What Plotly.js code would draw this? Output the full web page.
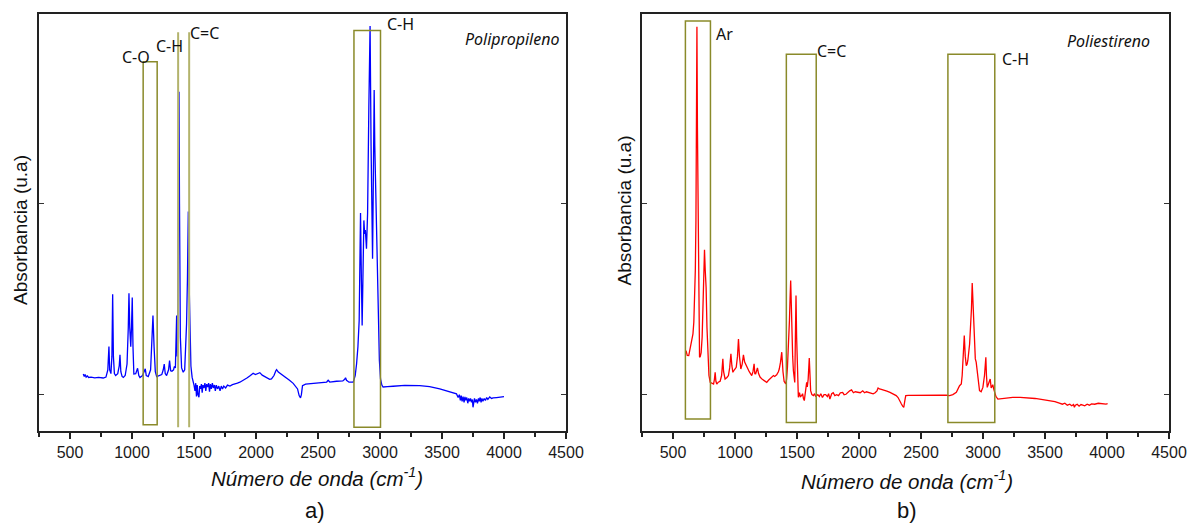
<!DOCTYPE html>
<html>
<head>
<meta charset="utf-8">
<script src="https://cdn.plot.ly/plotly-3.0.1.min.js"></script>
<style>html,body{margin:0;padding:0;background:#fff;}#chart{width:1188px;height:525px;}</style>
</head>
<body>
<div id="chart"></div>
<script>
// Polipropileno spectrum (wavenumber cm^-1, absorbance u.a.)
const ppWavenumber = [607,615,622,630,640,650,670,700,730,768,790,805,814,820,830,838,844,850,858,868,885,897,903,910,920,930,945,960,970,975.5,982,990,996,1002,1008,1015,1030,1045,1055,1064,1085,1100,1107,1115,1131,1150,1160,1169,1178,1188,1199,1220,1240,1252,1260,1268,1279,1295,1303,1312,1322,1335,1341,1350,1356,1360,1364,1370,1375,1379,1383,1390,1400,1413,1425,1435,1440,1447,1454,1460,1466,1475,1485,1493,1500,1508,1514,1520,1526,1532,1540,1546,1552,1560,1566,1572,1580,1588,1595,1602,1610,1618,1625,1632,1640,1648,1656,1665,1672,1680,1690,1700,1710,1720,1730,1740,1755,1770,1790,1810,1830,1850,1870,1900,1930,1955,1977,1995,2010,2031,2050,2080,2110,2125,2145,2160,2166,2180,2210,2240,2270,2300,2320,2335,2348,2359,2366,2375,2400,2450,2500,2550,2570,2582,2595,2650,2700,2715,2722,2730,2750,2784,2800,2811,2822,2832,2843,2850,2856,2862,2870,2876,2882,2891,2900,2910,2920,2928,2935,2940,2946,2953,2958,2964,2972,2978,2985,2995,3004,3015,3025,3039,3060,3106,3200,3321,3400,3482,3550,3600,3617,3630,3640,3648,3655,3662,3670,3678,3685,3692,3700,3708,3715,3722,3730,3738,3745,3750,3756,3762,3770,3778,3786,3794,3800,3808,3815,3822,3830,3840,3850,3860,3870,3885,3900,3912,3940,3970,4000];
const ppAbsorbance = [0.108,0.095,0.105,0.092,0.098,0.09,0.092,0.088,0.09,0.087,0.092,0.13,0.251,0.13,0.11,0.2,0.525,0.2,0.11,0.10,0.11,0.15,0.209,0.12,0.095,0.09,0.1,0.16,0.35,0.53,0.35,0.25,0.35,0.508,0.25,0.108,0.11,0.138,0.1,0.09,0.1,0.12,0.135,0.1,0.095,0.13,0.25,0.414,0.25,0.12,0.094,0.1,0.105,0.13,0.16,0.11,0.1,0.13,0.178,0.125,0.122,0.13,0.147,0.14,0.25,0.414,0.2,0.4,1.0,1.583,1.0,0.3,0.14,0.117,0.13,0.25,0.37,0.6,0.958,0.6,0.3,0.15,0.09,0.073,0.05,0.02,0.06,-0.01,0.05,0.0,-0.014,0.045,0.03,0.055,0.01,0.05,0.035,0.06,0.02,0.055,0.04,0.06,0.015,0.055,0.03,0.06,0.035,0.05,0.02,0.05,0.03,0.045,0.02,0.045,0.03,0.045,0.035,0.05,0.045,0.052,0.055,0.06,0.065,0.075,0.088,0.1,0.112,0.105,0.108,0.115,0.102,0.09,0.08,0.082,0.1,0.125,0.131,0.118,0.105,0.09,0.075,0.059,0.045,0.03,-0.005,-0.017,0.0,0.047,0.055,0.058,0.06,0.065,0.066,0.075,0.066,0.07,0.072,0.08,0.088,0.075,0.065,0.065,0.1,0.16,0.25,0.387,0.949,0.6,0.361,0.6,0.911,0.841,0.86,0.763,0.95,1.5,1.927,1.3,0.9,0.71,1.1,1.592,1.3,1.085,0.8,0.6,0.387,0.18,0.082,0.05,0.04,0.042,0.042,0.044,0.048,0.047,0.042,0.03,0.018,0.008,0.004,-0.015,0.0,-0.03,-0.005,-0.035,-0.01,-0.04,-0.012,-0.03,-0.015,-0.045,-0.02,-0.035,-0.02,-0.04,-0.025,-0.066,-0.03,-0.02,-0.04,-0.025,-0.045,-0.02,-0.035,-0.015,-0.04,-0.02,-0.035,-0.02,-0.03,-0.015,-0.025,-0.012,-0.02,-0.017,-0.015,-0.012,-0.01];

// Poliestireno spectrum
const psWavenumber = [605,615,627,639,650,661,668,674,680,685,689,693,697,703.5,708,714,720,727,735,741,746,754,760,767,774,781.5,790,800,815,827,834,840,846,853,865,880,892,897,902,908,920,935,947,957,967,975,983,995,1010,1020,1028,1036,1047,1058,1068,1078,1095,1115,1135,1145,1154,1160,1167,1174,1181,1190,1202,1220,1240,1256,1270,1285,1296,1310,1320,1336,1350,1357,1367,1377,1387,1396,1409,1416,1423,1432,1439,1444,1449,1455,1460,1465,1471,1477,1482,1487,1492,1497,1503,1511,1520,1527,1538,1545,1552,1559,1565,1572,1578,1583,1590,1599,1605,1610,1620,1632,1642,1650,1658,1668,1680,1692,1705,1718,1731,1745,1755,1765,1780,1792,1805,1820,1835,1850,1868,1880,1895,1910,1925,1940,1955,1970,1990,2010,2030,2045,2060,2080,2100,2114,2130,2145,2154,2165,2180,2200,2225,2250,2275,2300,2315,2330,2342,2352,2361,2370,2377,2400,2450,2500,2570,2650,2704,2731,2757,2785,2811,2825,2832,2838,2849,2857,2865,2872,2878,2892,2900,2907,2913,2920,2927,2938,2945,2951,2960,2972,2985,2999,3012,3023,3028,3034,3046,3058,3066,3072,3079,3086,3093,3105,3120,3180,3240,3300,3374,3420,3482,3535,3580,3616,3640,3660,3680,3700,3715,3730,3737,3745,3760,3775,3790,3805,3820,3840,3858,3875,3900,3930,3960,3992,4005];
const psAbsorbance = [0.23,0.205,0.204,0.239,0.27,0.318,0.38,0.475,0.65,0.911,1.4,1.923,1.4,0.911,0.5,0.195,0.2,0.22,0.3,0.42,0.562,0.757,0.65,0.56,0.35,0.213,0.1,0.064,0.058,0.055,0.08,0.117,0.07,0.055,0.065,0.07,0.1,0.14,0.187,0.12,0.082,0.09,0.1,0.14,0.213,0.15,0.117,0.13,0.143,0.2,0.291,0.2,0.134,0.16,0.208,0.17,0.143,0.12,0.1,0.12,0.161,0.11,0.109,0.12,0.14,0.11,0.092,0.08,0.07,0.064,0.075,0.085,0.094,0.1,0.095,0.104,0.12,0.134,0.17,0.222,0.12,0.07,0.056,0.08,0.143,0.25,0.387,0.5,0.597,0.45,0.248,0.2,0.125,0.09,0.064,0.3,0.518,0.3,0.125,-0.014,0.01,-0.01,-0.005,0.005,-0.02,-0.031,0.0,0.03,0.064,0.04,0.08,0.192,0.08,0.021,0.0,-0.005,0.005,-0.008,-0.005,0.0,-0.01,0.005,-0.015,0.0,0.0,-0.01,0.005,-0.023,0.005,0.01,-0.005,0.0,-0.005,0.01,0.012,0.0,0.002,0.012,0.02,0.025,0.01,0.015,0.012,0.01,0.02,0.01,0.015,0.01,0.005,0.004,0.01,0.02,0.035,0.03,0.028,0.022,0.018,0.012,0.004,-0.005,-0.015,-0.03,-0.049,-0.06,-0.066,-0.03,-0.005,-0.004,-0.003,-0.002,0.0,-0.002,-0.003,-0.005,0.0,0.012,0.047,0.056,0.1,0.178,0.309,0.2,0.152,0.16,0.18,0.265,0.35,0.45,0.583,0.45,0.352,0.187,0.17,0.143,0.08,0.021,0.015,0.038,0.1,0.195,0.1,0.038,0.06,0.082,0.035,0.045,0.052,0.03,0.01,-0.01,-0.023,-0.018,-0.014,-0.014,-0.016,-0.02,-0.026,-0.031,-0.036,-0.044,-0.05,-0.045,-0.055,-0.05,-0.058,-0.052,-0.066,-0.055,-0.05,-0.06,-0.052,-0.055,-0.058,-0.05,-0.055,-0.048,-0.05,-0.045,-0.048,-0.049,-0.047];

// Band labels and sample names
const ppLabels = ['C-O','C-H','C=C','C-H'];
const ppLabelX = [1032,1303,1586,3168];
const ppLabelY = [1.766,1.822,1.89,1.937];
const psLabels = ['Ar','C=C','C-H'];
const psLabelX = [913,1782,3262];
const psLabelY = [1.885,1.796,1.754];
const sampleNames = ['Polipropileno','Poliestireno'];

// Highlight boxes [x0, x1, y0, y1]
const ppBoxes = [[1090,1203,-0.157,1.740],[2790,3004,-0.171,1.904]];
const ppLines = [[1372,-0.171,1.894],[1461,-0.171,1.894]];
const psBoxes = [[600,802,-0.127,1.954],[1414,1655,-0.145,1.780],[2717,3095,-0.145,1.780]];

const xTitle = '<i>Número de onda (cm<sup>-1</sup>)</i>';
const yTitle = 'Absorbancia (u.a)';
const panelTags = ['a)','b)'];

const boxColor = '#8a8a2a';
const lineColor = '#b3b36c';
const tickFont = {family:'Liberation Sans, Arial, sans-serif', size:16, color:'#1a1a1a'};
const labelFont = {family:'Noto Sans, Open Sans, sans-serif', size:16, color:'#111'};

const traces = [
  {x: ppWavenumber, y: ppAbsorbance, xaxis:'x', yaxis:'y', type:'scatter', mode:'lines', line:{color:'#0000ff', width:1.3}, hoverinfo:'skip'},
  {x: psWavenumber, y: psAbsorbance, xaxis:'x2', yaxis:'y2', type:'scatter', mode:'lines', line:{color:'#ff0000', width:1.3}, hoverinfo:'skip'}
];

const shapes = [];
ppBoxes.forEach(b => shapes.push({type:'rect', xref:'x', yref:'y', x0:b[0], x1:b[1], y0:b[2], y1:b[3], line:{color:boxColor, width:1.5}, fillcolor:'rgba(0,0,0,0)'}));
ppLines.forEach(l => shapes.push({type:'line', xref:'x', yref:'y', x0:l[0], x1:l[0], y0:l[1], y1:l[2], line:{color:lineColor, width:2}}));
psBoxes.forEach(b => shapes.push({type:'rect', xref:'x2', yref:'y2', x0:b[0], x1:b[1], y0:b[2], y1:b[3], line:{color:boxColor, width:1.5}, fillcolor:'rgba(0,0,0,0)'}));

const annotations = [];
ppLabels.forEach((t,i) => annotations.push({text:t, x:ppLabelX[i], y:ppLabelY[i], xref:'x', yref:'y', showarrow:false, font:labelFont, xanchor:'center', yanchor:'middle'}));
psLabels.forEach((t,i) => annotations.push({text:t, x:psLabelX[i], y:psLabelY[i], xref:'x2', yref:'y2', showarrow:false, font:labelFont, xanchor:'center', yanchor:'middle'}));
annotations.push({text:'<i>'+sampleNames[0]+'</i>', x:4062, y:1.859, xref:'x', yref:'y', showarrow:false, font:{family:'Noto Sans, sans-serif', size:16, color:'#111'}});
annotations.push({text:'<i>'+sampleNames[1]+'</i>', x:4010, y:1.848, xref:'x2', yref:'y2', showarrow:false, font:{family:'Noto Sans, sans-serif', size:16, color:'#111'}});

const W = 1188, T = 14, B = 431, H = B - T;
function px(p){return p / W;}
function py(p){return (B - p) / H;}
const titleFont = {family:'Liberation Sans, Arial, sans-serif', size:20.5, color:'#111'};
const yTitleFont = {family:'Liberation Sans, Arial, sans-serif', size:19, color:'#111'};
annotations.push({text:yTitle, textangle:-90, x:px(20), y:py(230), xref:'paper', yref:'paper', showarrow:false, font:yTitleFont, xanchor:'center', yanchor:'middle'});
annotations.push({text:yTitle, textangle:-90, x:px(624.5), y:py(211), xref:'paper', yref:'paper', showarrow:false, font:yTitleFont, xanchor:'center', yanchor:'middle'});
annotations.push({text:xTitle, x:px(317), y:py(477), xref:'paper', yref:'paper', showarrow:false, font:titleFont, xanchor:'center', yanchor:'middle'});
annotations.push({text:xTitle, x:px(907), y:py(480), xref:'paper', yref:'paper', showarrow:false, font:titleFont, xanchor:'center', yanchor:'middle'});
annotations.push({text:panelTags[0], x:px(315), y:py(510), xref:'paper', yref:'paper', showarrow:false, font:{family:'Liberation Sans, Arial, sans-serif', size:22, color:'#111'}, xanchor:'center', yanchor:'middle'});
annotations.push({text:panelTags[1], x:px(907), y:py(511), xref:'paper', yref:'paper', showarrow:false, font:{family:'Liberation Sans, Arial, sans-serif', size:22, color:'#111'}, xanchor:'center', yanchor:'middle'});

const xRange = [250, 4500];
const yRange = [-0.19, 1.99];
function bottomX(domain){
  return {domain:domain, range:xRange, dtick:500, tick0:0, ticks:'outside', ticklen:6, tickwidth:1.3, tickcolor:'#222',
    minor:{dtick:250, tick0:0, ticks:'outside', ticklen:4, tickwidth:1.3, tickcolor:'#222'},
    showline:true, linecolor:'#222', linewidth:1.6, mirror:true, showgrid:false, zeroline:false,
    tickfont:tickFont, fixedrange:true};
}
function topX(over, anchor){
  return {overlaying:over, anchor:anchor, side:'top', range:xRange, dtick:250, tick0:0, ticks:'inside', ticklen:4, tickwidth:1.2, tickcolor:'#333',
    showticklabels:false, showline:false, showgrid:false, zeroline:false, fixedrange:true};
}
function yAx(anchor){
  return {anchor:anchor, domain:[0,1], range:yRange, dtick:1, tick0:0, ticks:'inside', ticklen:5, tickwidth:1.2, tickcolor:'#333',
    showticklabels:false, showline:true, linecolor:'#222', linewidth:1.6, mirror:'ticks', showgrid:false, zeroline:false, fixedrange:true};
}

const layout = {
  width:1188, height:525,
  margin:{l:0, r:0, t:T, b:525-B},
  paper_bgcolor:'#fff', plot_bgcolor:'#fff',
  showlegend:false,
  xaxis: Object.assign(bottomX([39/W, 566/W]), {anchor:'y'}),
  yaxis: yAx('x'),
  xaxis2: Object.assign(bottomX([642/W, 1169/W]), {anchor:'y2'}),
  yaxis2: yAx('x2'),
  xaxis3: topX('x','y'),
  xaxis4: topX('x2','y2'),
  shapes: shapes,
  annotations: annotations
};

Plotly.newPlot('chart', traces, layout, {staticPlot:true, displayModeBar:false});
</script>
</body>
</html>
